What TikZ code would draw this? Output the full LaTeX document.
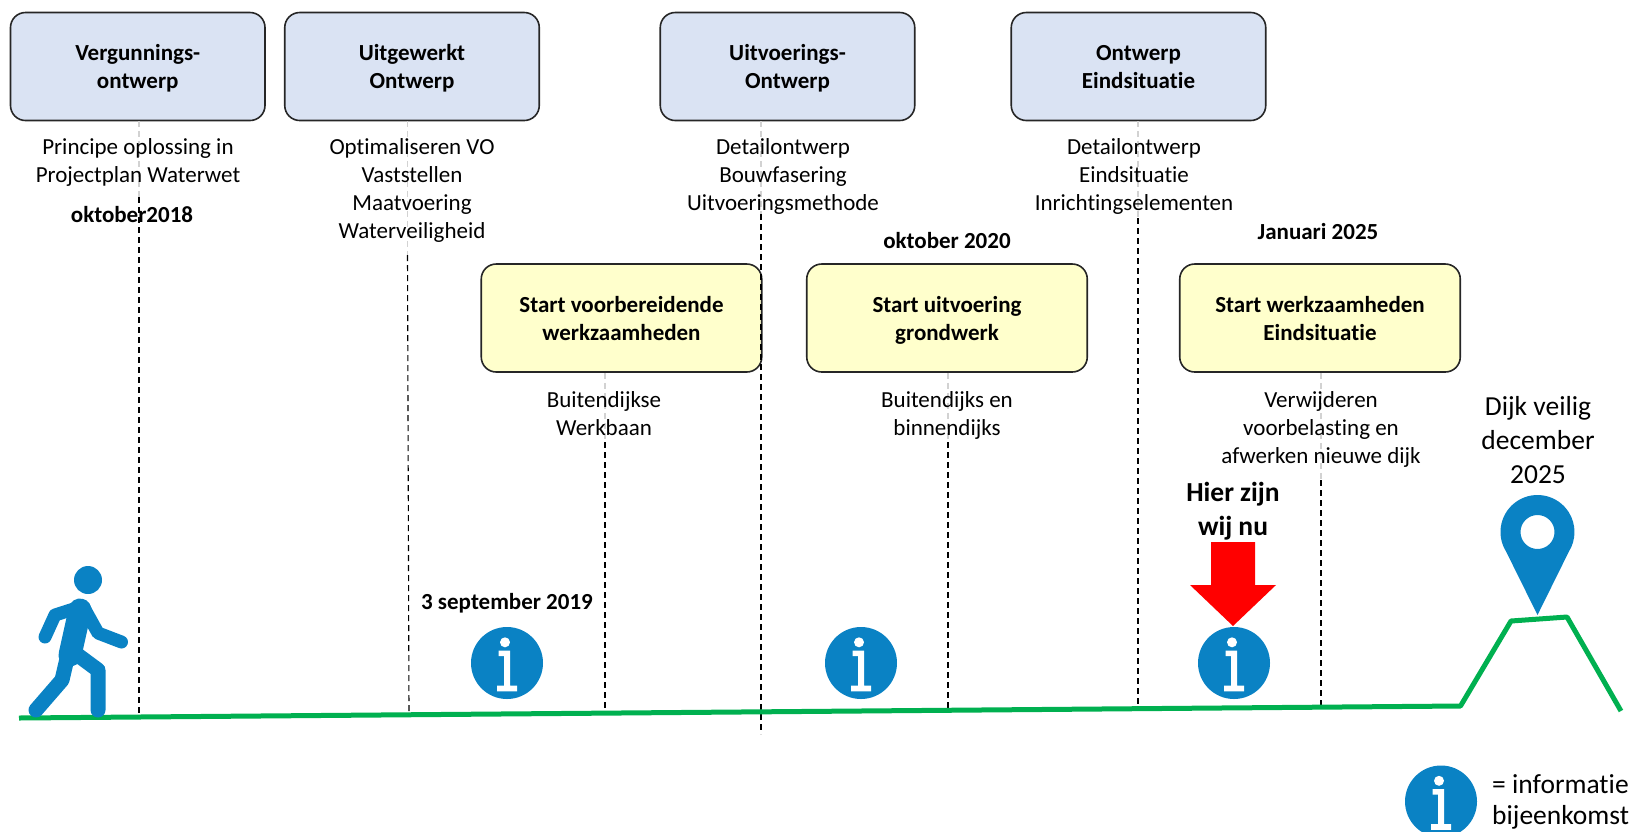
\documentclass[tikz,border=0pt]{standalone}
\usepackage{fontspec}
\setmainfont{Carlito}[Ligatures=CommonOff]
\definecolor{iconblue}{HTML}{0A82C4}
\definecolor{groundgreen}{HTML}{00B050}
\definecolor{phaseblue}{HTML}{DAE3F3}
\definecolor{startyellow}{HTML}{FFFFCC}
\tikzset{
  phasebox/.style={draw=black!85,line width=1.6pt,rounded corners=15pt,minimum width=254.5pt,minimum height=108pt,align=center,font=\fontsize{23}{28}\selectfont\bfseries,text height=44.5pt,text depth=0pt},
  phaseblue/.style={phasebox,fill=phaseblue},
  startbox/.style={phasebox,fill=startyellow,minimum width=280.5pt},
  desc/.style={align=center,font=\fontsize{23}{28}\selectfont,execute at end node=\strut},
  datum/.style={font=\fontsize{23}{25}\selectfont\bfseries},
  fadeline/.style={gray!35,line width=1.1pt,dash pattern=on 6pt off 4pt},
  blackline/.style={black,line width=1.1pt,dash pattern=on 6pt off 4pt},
  groundline/.style={groundgreen,line width=5pt,line join=round},
  walkline/.style={iconblue,line cap=round,line join=round},
  infoicon/.pic={
    \fill[iconblue] (0,0) circle (36);
    \fill[white] (-2,-20.7) circle (5);
    \fill[white] (-8.3,-12.3)--(3,-12.3)--(3,22.5)--(10,22.5)--(10,28.3)--(-10,28.3)--(-10,22.5)--(-3,22.5)--(-3,-7)--(-8.3,-7)--cycle;
  }
}
\begin{document}
\begin{tikzpicture}[x=1pt,y=-1pt]
  % ground
  \coordinate (g0) at (19,718);
  \coordinate (g1) at (139,717);
  \coordinate (g2) at (409,714.8);
  \coordinate (g3) at (761,734);
  \coordinate (g4) at (605,713);
  \coordinate (g5) at (948,710.3);
  \coordinate (g6) at (1138,708.7);
  \coordinate (g7) at (1321,707.2);
  \coordinate (d0) at (1460.5,706);
  \coordinate (d1) at (1511,621);
  \coordinate (d2) at (1567,617);
  \coordinate (d3) at (1621,711);
  % boxes
  \node[phaseblue] (vgo) at (137.75,66.5) {Vergunnings-\\ontwerp};
  \node[phaseblue] (uo) at (412,66.5) {Uitgewerkt\\Ontwerp};
  \node[phaseblue] (uvo) at (787.5,66.5) {Uitvoerings-\\Ontwerp};
  \node[phaseblue] (oe) at (1138.5,66.5) {Ontwerp\\Eindsituatie};
  \node[startbox] (svw) at (621.5,318) {Start voorbereidende\\werkzaamheden};
  \node[startbox] (sug) at (947,318) {Start uitvoering\\grondwerk};
  \node[startbox] (swe) at (1320,318) {Start werkzaamheden\\Eindsituatie};
  % dashed lines, pale behind the text
  \coordinate (t1) at (139,197);
  \coordinate (t2) at (407.5,255);
  \coordinate (t3) at (761,214);
  \coordinate (t4) at (1138,218);
  \coordinate (t5) at (605,442);
  \coordinate (t6) at (948,442);
  \coordinate (t7) at (1321,480);
  \draw[fadeline] (vgo.south -| t1)--(t1);
  \draw[fadeline] (uo.south -| t2)--(t2);
  \draw[fadeline] (uvo.south -| t3)--(t3);
  \draw[fadeline] (oe.south -| t4)--(t4);
  \draw[fadeline] (svw.south -| t5)--(t5);
  \draw[fadeline] (sug.south -| t6)--(t6);
  \draw[fadeline] (swe.south -| t7)--(t7);
  \draw[blackline] (t1)--(g1);
  \draw[blackline] (t2)--(g2);
  \draw[blackline] (t3)--(g3);
  \draw[blackline] (t4)--(g6);
  \draw[blackline] (t5)--(g4);
  \draw[blackline] (t6)--(g5);
  \draw[blackline] (t7)--(g7);
  \draw[groundline] (g0)--(d0)--(d1)--(d2)--(d3);
  % texts
  \node[desc] (d-vgo) at (138,165) {Principe oplossing in\\Projectplan Waterwet};
  \node[desc] (d-uo) at (412,193) {Optimaliseren VO\\Vaststellen\\Maatvoering\\Waterveiligheid};
  \node[desc] (d-uvo) at (783,179) {Detailontwerp\\Bouwfasering\\Uitvoeringsmethode};
  \node[desc] (d-oe) at (1134,179) {Detailontwerp\\Eindsituatie\\Inrichtingselementen};
  \node[desc] (d-svw) at (604,418) {Buitendijkse\\Werkbaan};
  \node[desc] (d-sug) at (947,418) {Buitendijks en\\binnendijks};
  \node[desc] (d-swe) at (1321,432) {Verwijderen\\voorbelasting en\\afwerken nieuwe dijk};
  \node[datum] (dat1) at (132,215) {oktober2018};
  \node[datum] (dat2) at (507,603) {3 september 2019};
  \node[datum] (dat3) at (947,241) {oktober 2020};
  \node[datum] (dat4) at (1318,232) {Januari 2025};
  \node[align=center,font=\fontsize{27.5}{34}\selectfont\bfseries,execute at end node=\strut] (nu) at (1233,514) {Hier zijn\\wij nu};
  \node[align=center,font=\fontsize{27.5}{34}\selectfont,execute at end node=\strut] (veilig) at (1538,445) {Dijk veilig\\december\\2025};
  \node[align=left,anchor=west,inner sep=0pt,font=\fontsize{27.5}{31}\selectfont,execute at end node=\strut] (legend) at (1492,804) {= informatie\\bijeenkomst};
  % icons
  \pic at (507,663) {infoicon};
  \pic at (861,663) {infoicon};
  \pic at (1234,663) {infoicon};
  \pic at (1441,801.5) {infoicon};
  % red arrow
  \fill[red] (1211,542)--(1255,542)--(1255,585)--(1276,585)--(1233,626)--(1190,585)--(1211,585)--cycle;
  % pin
  \fill[iconblue,even odd rule] (1537.5,615)--(1506.1,551.6) arc[start angle=148,end angle=392,radius=37]--cycle (1537.5,532) circle (17);
  % walker
  \fill[iconblue] (88,580) circle (14);
  \draw[walkline,line width=13pt] (45,637)--(55,615)--(83,606)--(98,633)--(121.5,642);
  \draw[walkline,line width=23pt] (80,610)--(70,655);
  \draw[walkline,line width=15pt] (36,710)--(62,680)--(69,650);
  \draw[walkline,line width=15pt] (98,710)--(98,670)--(75,653);
  \pgfresetboundingbox
  \useasboundingbox (0,0) rectangle (1630,831);
\end{tikzpicture}
\end{document}
